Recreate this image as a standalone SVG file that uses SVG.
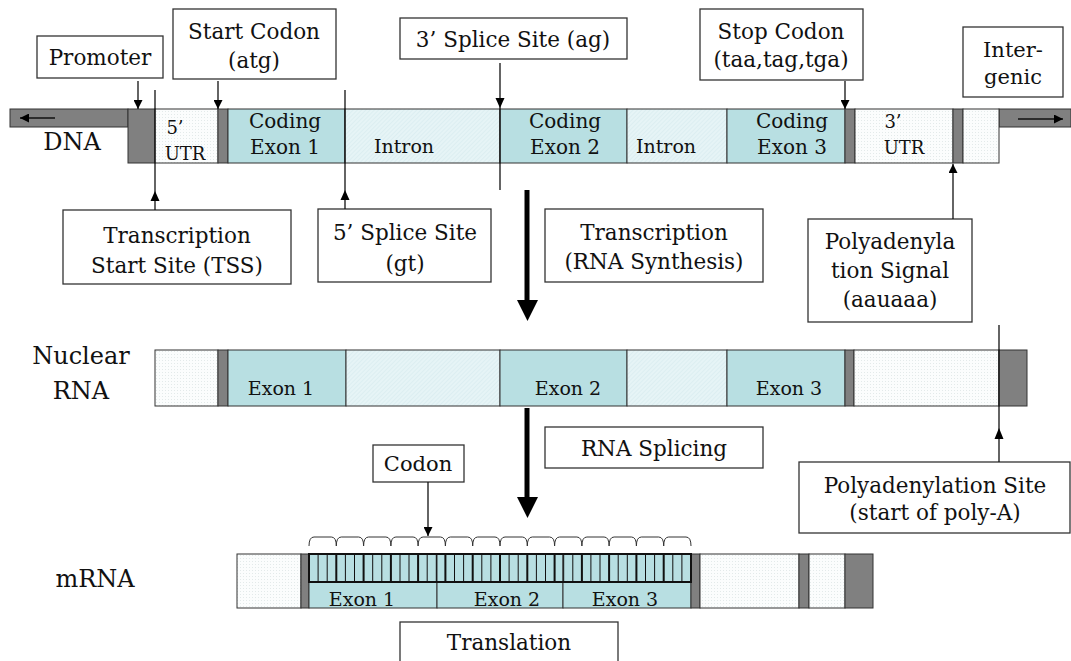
<svg xmlns="http://www.w3.org/2000/svg" width="1071" height="661" viewBox="0 0 1071 661">
<defs>
<pattern id="hatch" width="3" height="3" patternUnits="userSpaceOnUse" patternTransform="rotate(45)"><rect width="3" height="3" fill="#e6f4f6"/><line x1="0" y1="0" x2="0" y2="3" stroke="#d2e9ec" stroke-width="1"/></pattern>
<pattern id="dots" width="3" height="3" patternUnits="userSpaceOnUse"><rect width="3" height="3" fill="#fbfdfd"/><rect width="1" height="1" fill="#e3eaea"/></pattern>
<marker id="ah" viewBox="0 0 10 10" refX="10" refY="5" markerWidth="9" markerHeight="9" markerUnits="userSpaceOnUse" orient="auto"><path d="M0,0 L10,5 L0,10 z" fill="#000"/></marker>
</defs>
<style>
.t{font-family:"DejaVu Serif",serif;font-size:19px;fill:#111;text-anchor:middle}
.c{font-size:20px}
.s{font-size:18px}
.b{font-size:21.5px}
.big{font-size:24px}
.box{fill:#fff;stroke:#333;stroke-width:1.3}
.g{fill:#808080;stroke:#333;stroke-width:1}
.ex{fill:#b8dfe2;stroke:#333;stroke-width:1}
.in{fill:url(#hatch);stroke:#333;stroke-width:1}
.ut{fill:url(#dots);stroke:#333;stroke-width:1}
.ln{stroke:#111;stroke-width:1.3;fill:none}
</style>
<rect width="1071" height="661" fill="#fff"/>

<g id="dna">
<rect class="g" x="10" y="109" width="118" height="18"/>
<rect class="g" x="999" y="109" width="72" height="18"/>
<rect class="g" x="128" y="109" width="27" height="54"/>
<rect class="ut" x="155" y="109" width="63" height="54"/>
<rect class="g" x="218" y="109" width="10" height="54"/>
<rect class="ex" x="228" y="109" width="117" height="54"/>
<rect class="in" x="345" y="109" width="155" height="54"/>
<rect class="ex" x="500" y="109" width="127" height="54"/>
<rect class="in" x="627" y="109" width="100" height="54"/>
<rect class="ex" x="727" y="109" width="118" height="54"/>
<rect class="g" x="845" y="109" width="10" height="54"/>
<rect class="ut" x="855" y="109" width="98" height="54"/>
<rect class="g" x="953" y="109" width="10" height="54"/>
<rect class="ut" x="963" y="109" width="36" height="54"/>
<line class="ln" x1="55" y1="118" x2="20" y2="118" marker-end="url(#ah)"/>
<line class="ln" x1="1018" y1="119" x2="1063" y2="119" marker-end="url(#ah)"/>
<text class="t big" x="72" y="150">DNA</text>
<text class="t s" x="175" y="134">5’</text>
<text class="t s" x="185" y="160">UTR</text>
<text class="t c" x="285" y="128">Coding</text>
<text class="t c" x="285" y="154">Exon 1</text>
<text class="t" x="404" y="153">Intron</text>
<text class="t c" x="565" y="128">Coding</text>
<text class="t c" x="565" y="154">Exon 2</text>
<text class="t" x="666" y="153">Intron</text>
<text class="t c" x="792" y="128">Coding</text>
<text class="t c" x="792" y="154">Exon 3</text>
<text class="t s" x="893" y="128">3’</text>
<text class="t s" x="904" y="154">UTR</text>
</g>

<g id="nuclear-rna">
<rect class="ut" x="155" y="350" width="63" height="56"/>
<rect class="g" x="218" y="350" width="10" height="56"/>
<rect class="ex" x="228" y="350" width="118" height="56"/>
<rect class="in" x="346" y="350" width="154" height="56"/>
<rect class="ex" x="500" y="350" width="127" height="56"/>
<rect class="in" x="627" y="350" width="100" height="56"/>
<rect class="ex" x="727" y="350" width="118" height="56"/>
<rect class="g" x="845" y="350" width="9" height="56"/>
<rect class="ut" x="854" y="350" width="145" height="56"/>
<rect class="g" x="999" y="350" width="28" height="56"/>
<text class="t big" x="81" y="364">Nuclear</text>
<text class="t big" x="81" y="399">RNA</text>
<text class="t" x="281" y="395">Exon 1</text>
<text class="t" x="568" y="395">Exon 2</text>
<text class="t" x="789" y="395">Exon 3</text>
</g>

<g id="mrna">
<rect class="ut" x="237" y="554" width="64" height="54"/>
<rect class="g" x="301" y="554" width="8" height="54"/>
<rect class="ex" x="309" y="554" width="128" height="54"/>
<rect class="ex" x="437" y="554" width="126" height="54"/>
<rect class="ex" x="563" y="554" width="128" height="54"/>
<rect class="g" x="691" y="554" width="9" height="54"/>
<rect class="ut" x="700" y="554" width="99" height="54"/>
<rect class="g" x="799" y="554" width="10" height="54"/>
<rect class="ut" x="809" y="554" width="36" height="54"/>
<rect class="g" x="845" y="554" width="28" height="54"/>
<path d="M318.1 554V582M327.2 554V582M345.4 554V582M354.5 554V582M372.7 554V582M381.8 554V582M400 554V582M409 554V582M427.2 554V582M436.3 554V582M454.5 554V582M463.6 554V582M481.8 554V582M490.9 554V582M509.1 554V582M518.2 554V582M536.4 554V582M545.5 554V582M563.7 554V582M572.8 554V582M590.9 554V582M600 554V582M618.2 554V582M627.3 554V582M645.5 554V582M654.6 554V582M672.8 554V582M681.9 554V582" stroke="#111" stroke-width="1" fill="none"/>
<path d="M336.3 554V582M363.6 554V582M390.9 554V582M418.1 554V582M445.4 554V582M472.7 554V582M500 554V582M527.3 554V582M554.6 554V582M581.9 554V582M609.1 554V582M636.4 554V582M663.7 554V582" stroke="#111" stroke-width="2" fill="none"/>
<rect x="309" y="554" width="382" height="28" fill="none" stroke="#111" stroke-width="2"/>
<path d="M309 546Q309 537 314 537H331.3Q336.3 537 336.3 546M336.3 546Q336.3 537 341.3 537H358.6Q363.6 537 363.6 546M363.6 546Q363.6 537 368.6 537H385.9Q390.9 537 390.9 546M390.9 546Q390.9 537 395.9 537H413.1Q418.1 537 418.1 546M418.1 546Q418.1 537 423.1 537H440.4Q445.4 537 445.4 546M445.4 546Q445.4 537 450.4 537H467.7Q472.7 537 472.7 546M472.7 546Q472.7 537 477.7 537H495Q500 537 500 546M500 546Q500 537 505 537H522.3Q527.3 537 527.3 546M527.3 546Q527.3 537 532.3 537H549.6Q554.6 537 554.6 546M554.6 546Q554.6 537 559.6 537H576.9Q581.9 537 581.9 546M581.9 546Q581.9 537 586.9 537H604.1Q609.1 537 609.1 546M609.1 546Q609.1 537 614.1 537H631.4Q636.4 537 636.4 546M636.4 546Q636.4 537 641.4 537H658.7Q663.7 537 663.7 546M663.7 546Q663.7 537 668.7 537H686Q691 537 691 546" stroke="#333" stroke-width="1" fill="none"/>
<text class="t big" x="95" y="587">mRNA</text>
<text class="t" x="362" y="606">Exon 1</text>
<text class="t" x="507" y="606">Exon 2</text>
<text class="t" x="625" y="606">Exon 3</text>
</g>

<g id="promoter"><rect class="box" x="37" y="36" width="126" height="42"/><text class="t b" x="100" y="65">Promoter</text></g>
<g id="start-codon"><rect class="box" x="173" y="9" width="163" height="70"/><text class="t b" x="254" y="39">Start Codon</text><text class="t b" x="254" y="68">(atg)</text></g>
<g id="splice3"><rect class="box" x="400" y="18" width="227" height="41"/><text class="t b" x="513" y="47">3’ Splice Site (ag)</text></g>
<g id="stop-codon"><rect class="box" x="700" y="9" width="163" height="71"/><text class="t b" x="781" y="39">Stop Codon</text><text class="t b" x="781" y="67">(taa,tag,tga)</text></g>
<g id="intergenic"><rect class="box" x="963" y="27" width="100" height="70"/><text class="t" style="font-size:21px" x="1013" y="57">Inter-</text><text class="t" style="font-size:21px" x="1013" y="84">genic</text></g>
<g id="tss"><rect class="box" x="63" y="210" width="228" height="74"/><text class="t b" x="177" y="243">Transcription</text><text class="t b" x="177" y="273">Start Site (TSS)</text></g>
<g id="splice5"><rect class="box" x="318" y="209" width="173" height="73"/><text class="t b" x="405" y="240">5’ Splice Site</text><text class="t b" x="405" y="271">(gt)</text></g>
<g id="transcription"><rect class="box" x="545" y="209" width="218" height="73"/><text class="t b" x="654" y="240">Transcription</text><text class="t b" x="654" y="269">(RNA Synthesis)</text></g>
<g id="poly-signal"><rect class="box" x="808" y="219" width="164" height="103"/><text class="t b" x="890" y="249">Polyadenyla</text><text class="t b" x="890" y="278">tion Signal</text><text class="t b" x="890" y="307">(aauaaa)</text></g>
<g id="splicing"><rect class="box" x="545" y="427" width="218" height="41"/><text class="t b" x="654" y="456">RNA Splicing</text></g>
<g id="codon"><rect class="box" x="373" y="445" width="91" height="37"/><text class="t" style="font-size:21px" x="418" y="471">Codon</text></g>
<g id="poly-site"><rect class="box" x="799" y="462" width="271" height="71"/><text class="t b" x="935" y="493">Polyadenylation Site</text><text class="t b" x="935" y="520">(start of poly-A)</text></g>
<g id="translation"><rect class="box" x="400" y="622" width="218" height="50"/><text class="t b" x="509" y="650">Translation</text></g>

<g id="connectors">
<line class="ln" x1="138" y1="81" x2="138" y2="109" marker-end="url(#ah)"/>
<line class="ln" x1="218" y1="81" x2="218" y2="109" marker-end="url(#ah)"/>
<line class="ln" x1="500" y1="63" x2="500" y2="190"/>
<path d="M495.5 98L504.5 98L500 108z" fill="#000"/>
<line class="ln" x1="845" y1="81" x2="845" y2="109" marker-end="url(#ah)"/>
<line class="ln" x1="155" y1="90" x2="155" y2="210"/>
<path d="M150.5 201L159.5 201L155 191z" fill="#000"/>
<line class="ln" x1="345" y1="90" x2="345" y2="209"/>
<path d="M340.5 200L349.5 200L345 190z" fill="#000"/>
<line class="ln" x1="953" y1="219" x2="953" y2="164" marker-end="url(#ah)"/>
<line class="ln" x1="999" y1="325" x2="999" y2="462"/>
<path d="M994.5 439L1003.5 439L999 428z" fill="#000"/>
<line class="ln" x1="428" y1="482" x2="428" y2="536" marker-end="url(#ah)"/>
<line x1="527" y1="190" x2="527" y2="302" stroke="#000" stroke-width="5"/>
<path d="M517 300L538 300L527.5 321z" fill="#000"/>
<line x1="527" y1="408" x2="527" y2="499" stroke="#000" stroke-width="5"/>
<path d="M517 497L538 497L527.5 518z" fill="#000"/>
</g>
</svg>
